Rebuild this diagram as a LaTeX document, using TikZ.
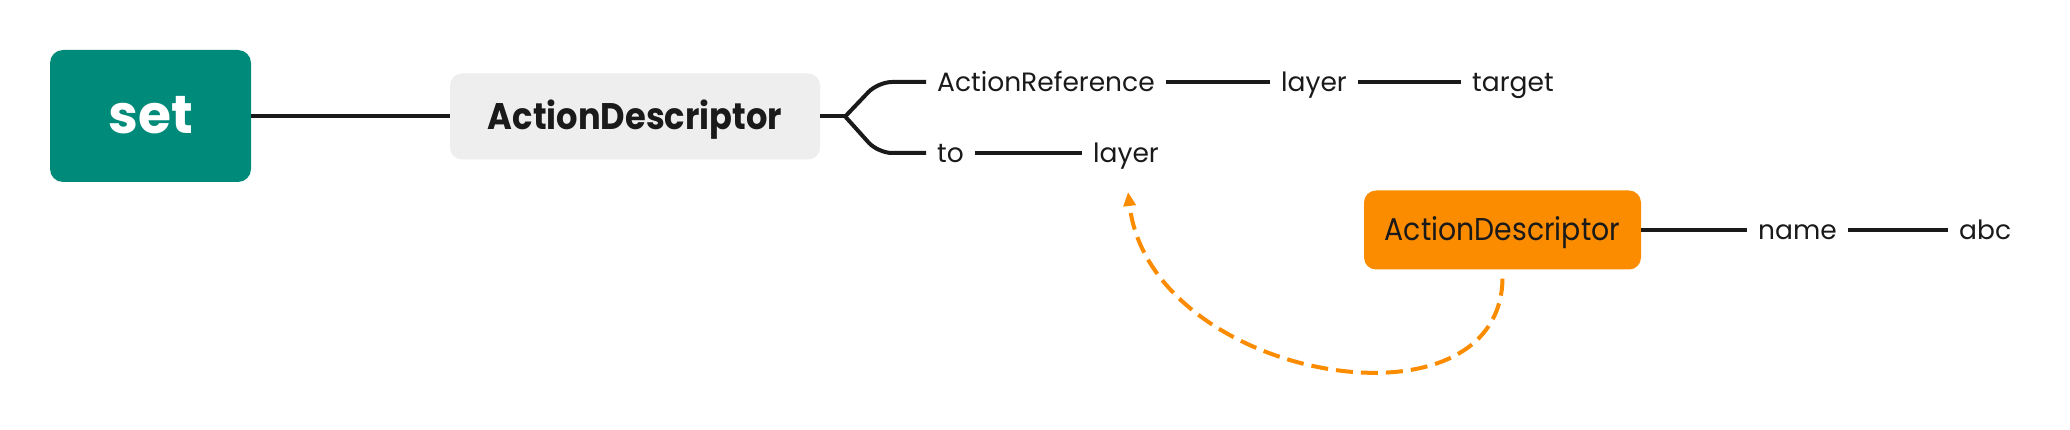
\documentclass[tikz,border=0pt]{standalone}
\usepackage{fontspec}
\setmainfont{Poppins}
\newfontfamily\narrowfont[FakeStretch=0.91]{Poppins}
\newfontfamily\narrowerfont[FakeStretch=0.9]{Poppins}
\usetikzlibrary{arrows.meta,calc}
\definecolor{setgreen}{RGB}{0,138,122}
\definecolor{boxgray}{RGB}{238,238,238}
\definecolor{orangeb}{RGB}{251,140,0}
\definecolor{inkc}{RGB}{26,26,26}
\begin{document}
\begin{tikzpicture}[x=1pt,y=-1pt,
  conn/.style={line width=4pt, draw=inkc},
  rootbox/.style={fill=setgreen, rounded corners=13pt, minimum width=201pt, minimum height=132pt, inner sep=0pt, text=white, font=\fontsize{53.5}{60}\selectfont\bfseries, text height=36pt, text depth=0pt},
  adbox/.style={fill=boxgray, rounded corners=12pt, minimum width=370pt, minimum height=86pt, inner sep=0pt, text=inkc, font=\narrowfont\fontsize{37}{40}\selectfont\bfseries, text height=26pt, text depth=0pt},
  odbox/.style={fill=orangeb, rounded corners=12pt, minimum width=277pt, minimum height=79pt, inner sep=0pt, text=inkc, font=\narrowerfont\fontsize{31.5}{34}\selectfont, text height=22pt, text depth=0pt},
  leaf/.style={anchor=west, inner xsep=11pt, inner ysep=0pt, text height=19pt, text depth=0pt, font=\fontsize{26.5}{30}\selectfont, text=inkc},
  link/.style={draw=orangeb, line width=4pt, dash pattern=on 17pt off 8pt, -{Triangle[length=14pt,width=12pt]}}
]
\useasboundingbox (0,0) rectangle (2070,430);
\fill[white] (0,0) rectangle (2070,430);

\node[rootbox] (set) at (150.5,116) {set};
\node[adbox] (ad) at (635,116.5) {ActionDescriptor};
\node[odbox] (od) at (1502.5,230) {ActionDescriptor};

\node[leaf] (ar) at (926,82) {ActionReference};
\node[leaf] (l1) at (1270,82) {layer};
\node[leaf] (tg) at (1461,82) {target};
\node[leaf] (to) at (926,153) {to};
\node[leaf] (l2) at (1082,153) {layer};
\node[leaf] (nm) at (1747,230) {name};
\node[leaf] (abc) at (1948,230) {abc};

\draw[conn] (set.east) -- (set.east -| ad.west);
\coordinate (fk) at ($(ad.east)+(25,0)$);
\draw[conn] (ad.east) -- (fk);
\draw[conn, rounded corners=14pt] (fk) -- (878,82) -- (ar.west);
\draw[conn, rounded corners=14pt] (fk) -- (878,153) -- (to.west);
\draw[conn] (ar.east) -- (l1.west);
\draw[conn] (l1.east) -- (tg.west);
\draw[conn] (to.east) -- (l2.west);
\draw[conn] (od.east) -- (nm.west);
\draw[conn] (nm.east) -- (abc.west);

\coordinate (ds) at ($(od.south)+(0,9)$);
\coordinate (de) at ($(l2.center)+(2,39)$);
\draw[link] (ds) .. controls (1500,440) and (1150,380) .. (de);
\end{tikzpicture}
\end{document}
